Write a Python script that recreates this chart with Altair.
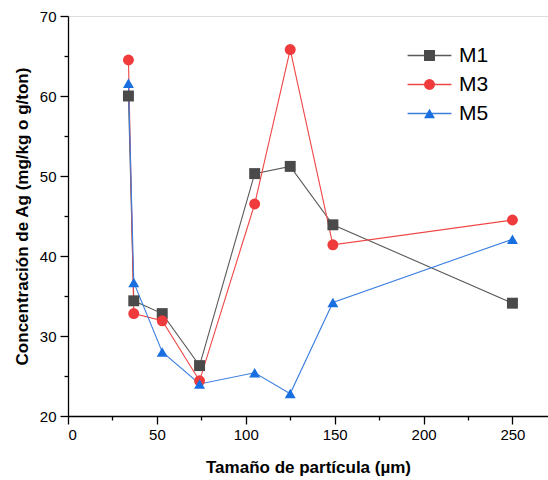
import altair as alt
import pandas as pd

sizes = [34, 37, 53, 74, 105, 125, 149, 250]
m1 = [60.0, 34.4, 32.8, 26.3, 50.3, 51.2, 43.9, 34.1]
m3 = [64.5, 32.8, 31.9, 24.4, 46.5, 65.8, 41.4, 44.5]
m5 = [61.6, 36.7, 28.0, 24.0, 25.4, 22.8, 34.2, 42.1]
series_names = ["M1", "M3", "M5"]

rows = []
for name, vals in zip(series_names, [m1, m3, m5]):
    for s, v in zip(sizes, vals):
        rows.append({"size": s, "value": v, "series": name, "series_line": name})
df = pd.DataFrame(rows)

line_colors = ["#5a5a5a", "#f04545", "#3a7fe0"]
fill_colors = ["#4a4a4a", "#ef3b3b", "#1a6fe0"]
shapes = ["square", "circle", "triangle-up"]
FONT = "Liberation Sans"

x_axis = alt.Axis(
    values=[0, 25, 50, 75, 100, 125, 150, 175, 200, 225, 250],
    labelExpr="datum.value % 50 === 0 ? datum.label : ''",
    tickSize={"condition": {"test": "datum.value % 50 === 0", "value": 8}, "value": 4},
    grid=False, domainColor="black", tickColor="black", domainWidth=1.3, tickWidth=1.3,
    labelFont=FONT, labelFontSize=15, labelColor="black", labelPadding=3,
    title="Tamaño de partícula (µm)", titleFont=FONT, titleFontSize=17,
    titleFontWeight="bold", titleColor="black", titlePadding=17,
)
y_axis = alt.Axis(
    values=[20, 25, 30, 35, 40, 45, 50, 55, 60, 65, 70],
    labelExpr="datum.value % 10 === 0 ? datum.label : ''",
    tickSize={"condition": {"test": "datum.value % 10 === 0", "value": 8}, "value": 4},
    grid=False, domainColor="black", tickColor="black", domainWidth=1.3, tickWidth=1.3,
    labelFont=FONT, labelFontSize=15, labelColor="black", labelPadding=4,
    title="Concentración de Ag (mg/kg o g/ton)", titleFont=FONT, titleFontSize=17,
    titleFontWeight="bold", titleColor="black", titlePadding=8,
)

xenc = alt.X("size:Q", scale=alt.Scale(domain=[0, 270], nice=False, zero=False), axis=x_axis)
yenc = alt.Y("value:Q", scale=alt.Scale(domain=[20, 70], nice=False, zero=False), axis=y_axis)

LX, LY = 351, 29

line_legend = alt.Legend(
    orient="none", legendX=LX, legendY=LY, title=None, padding=0,
    symbolType="M-4,0H4", symbolSize=120, symbolStrokeWidth=1.5,
    labelFont=FONT, labelFontSize=21, labelOpacity=0, labelOffset=19,
    rowPadding=7, zindex=1,
)
point_legend = alt.Legend(
    orient="none", legendX=LX, legendY=LY, title=None, padding=0,
    symbolSize=120, symbolStrokeWidth=0,
    labelFont=FONT, labelFontSize=21, labelColor="black", labelOffset=19,
    rowPadding=7, zindex=2,
)

base = alt.Chart(df)
lines = base.mark_line(strokeWidth=1.1).encode(
    x=xenc, y=yenc,
    stroke=alt.Stroke("series_line:N", scale=alt.Scale(range=line_colors), legend=line_legend),
)
points = base.mark_point(filled=True, size=120, opacity=1).encode(
    x=xenc, y=yenc,
    fill=alt.Fill("series:N", scale=alt.Scale(domain=series_names, range=fill_colors), legend=point_legend),
    shape=alt.Shape("series:N", scale=alt.Scale(domain=series_names, range=shapes), legend=point_legend),
)

chart = alt.layer(lines, points).properties(
    width=480, height=400,
    autosize=alt.AutoSizeParams(type="none"),
    padding={"left": 68, "top": 16, "right": 0, "bottom": 64},
).configure_view(stroke=None).configure(background="white")

chart.save("out.html", embed_options={"renderer": "svg", "actions": False})
